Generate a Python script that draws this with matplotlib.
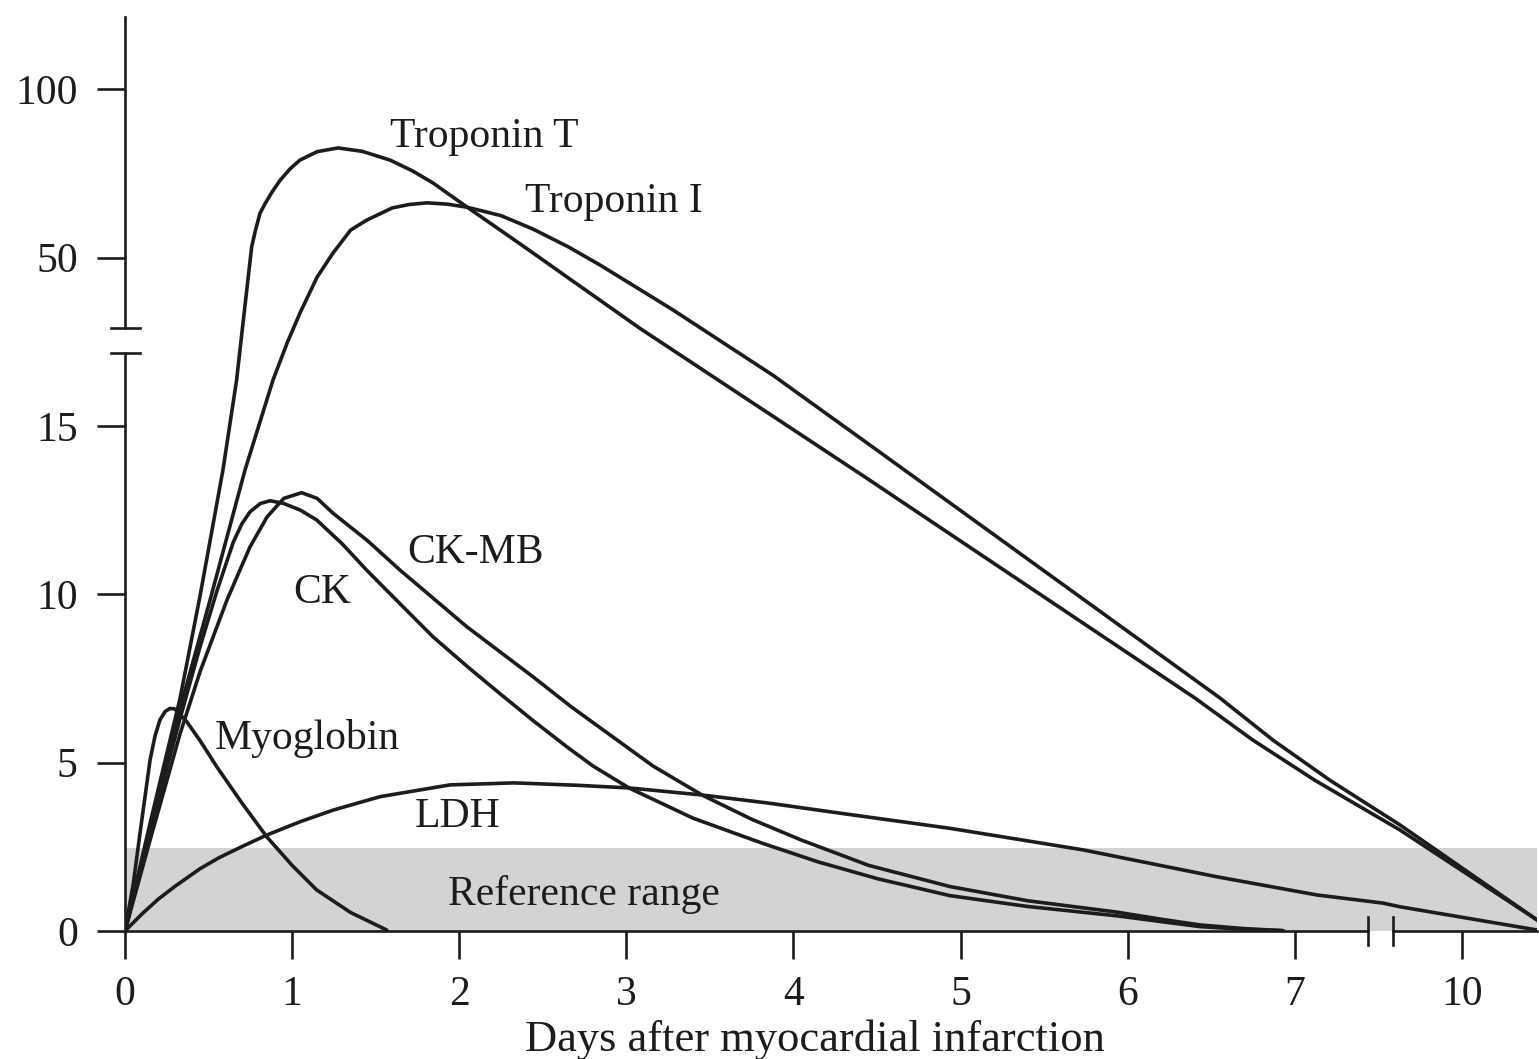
import numpy as np
import matplotlib.pyplot as plt

plt.rcParams['font.family'] = ['Liberation Serif', 'DejaVu Serif']

# values: x in days, y in the chart's units
tropT_x = [0, 0.15, 0.329, 0.449, 0.586, 0.668, 0.708, 0.758, 0.78, 0.808, 0.84, 0.88,
           0.928, 0.99, 1.047, 1.15, 1.275, 1.42, 1.586, 1.72, 1.843, 2.045, 2.24,
           2.442, 2.65, 2.843, 3.082, 4.439, 6.403, 6.75, 7.36, 8.89, 10.45]
tropT_y = [0, 3.2, 6.9, 9.95, 13.69, 16.37, 29.5, 53.2, 58.0, 63.2, 66.2, 69.5,
           73.0, 76.5, 79.0, 81.5, 82.6, 81.6, 79.0, 75.8, 72.2, 65.1, 58.4,
           51.4, 43.5, 36.1, 26.9, 13.45, 6.92, 5.67, 4.48, 3.0, 0.33]

tropI_x = [0, 0.15, 0.329, 0.509, 0.718, 0.886, 0.97, 1.047, 1.15, 1.245, 1.35, 1.448,
           1.6, 1.7, 1.807, 1.93, 2.047, 2.25, 2.442, 2.65, 2.843, 3.05, 3.279, 3.88,
           4.518, 6.553, 6.87, 7.63, 8.89, 10.45]
tropI_y = [0, 3.0, 6.6, 9.83, 13.69, 16.37, 22.1, 31.9, 43.7, 51.4, 58.2, 61.2,
           64.8, 65.8, 66.3, 65.9, 65.0, 62.5, 58.5, 53.3, 47.6, 40.65, 32.95, 16.5,
           14.22, 6.92, 5.67, 4.48, 3.15, 0.33]

ck_x = [0, 0.15, 0.329, 0.449, 0.55, 0.648, 0.7, 0.748, 0.81, 0.868, 0.95, 1.05,
        1.147, 1.3, 1.446, 1.65, 1.843, 2.05, 2.244, 2.442, 2.65, 2.801, 3.016, 3.4,
        3.818, 4.15, 4.506, 4.937, 5.4, 5.937, 6.2, 6.433, 6.7, 6.93]
ck_y = [0, 2.95, 6.3, 8.44, 10.1, 11.55, 12.1, 12.45, 12.7, 12.78, 12.70, 12.5,
        12.21, 11.5, 10.72, 9.7, 8.74, 7.85, 7.05, 6.25, 5.45, 4.9, 4.25, 3.35,
        2.6, 2.05, 1.55, 1.05, 0.73, 0.45, 0.28, 0.13, 0.05, 0.01]

ckmb_x = [0, 0.15, 0.329, 0.449, 0.61, 0.748, 0.85, 0.95, 1.057, 1.15, 1.245, 1.45,
          1.646, 2.045, 2.442, 2.673, 3.16, 3.453, 3.75, 4.048, 4.45, 4.937, 5.4,
          5.937, 6.2, 6.433, 6.7, 6.93]
ckmb_y = [0, 2.7, 5.85, 7.7, 9.83, 11.41, 12.3, 12.85, 13.02, 12.85, 12.41, 11.6,
          10.72, 9.04, 7.55, 6.65, 4.9, 4.04, 3.32, 2.70, 1.95, 1.32, 0.9,
          0.56, 0.35, 0.18, 0.07, 0.01]

myo_x = [0, 0.05, 0.09, 0.15, 0.18, 0.209, 0.24, 0.269, 0.295, 0.317, 0.369, 0.45,
         0.549, 0.7, 0.848, 1.0, 1.147, 1.35, 1.566]
myo_y = [0, 1.42, 2.91, 5.08, 5.8, 6.27, 6.52, 6.61, 6.6, 6.51, 6.22, 5.65,
         4.88, 3.8, 2.80, 1.95, 1.22, 0.55, 0.03]

ldh_x = [0, 0.1, 0.2, 0.3, 0.449, 0.56, 0.688, 0.848, 1.05, 1.245, 1.526, 1.945,
         2.328, 2.7, 3.016, 3.453, 3.85, 4.279, 4.937, 5.733, 6.535, 7.40, 8.58,
         8.89, 10.45]
ldh_y = [0, 0.5, 0.95, 1.33, 1.85, 2.17, 2.48, 2.85, 3.25, 3.59, 3.99, 4.34,
         4.40, 4.33, 4.25, 4.04, 3.8, 3.50, 3.05, 2.41, 1.61, 1.07, 0.83,
         0.72, 0.03]

ref_top = 2.47

x_ticks = [0, 1, 2, 3, 4, 5, 6, 7, 10]
y_ticks = [0, 5, 10, 15, 50, 100]

# broken axes: x 7..10 squeezed into one unit, y 17..50 into three, 50..100 into five
XR = [-5, 7, 10, 20]
XD = [-5, 7, 8, 18]
YR = [-100, 17, 50, 1000]
YD = [-100, 17, 20, 115]


def fx(v):
    return np.interp(v, XR, XD)


def ix(v):
    return np.interp(v, XD, XR)


def fy(v):
    return np.interp(v, YR, YD)


def iy(v):
    return np.interp(v, YD, YR)


fig = plt.figure(figsize=(15.39, 10.59), dpi=100)
ax = fig.add_axes([125 / 1539, 1 - 931 / 1059, 1412 / 1539, 914 / 1059])
ax.set_xscale('function', functions=(fx, ix))
ax.set_yscale('function', functions=(fy, iy))
ax.set_xlim(0, 10.45)
ax.set_ylim(0, 121.5)

ink = '#1c1c1c'
ax.axhspan(0, ref_top, color='#d3d3d3', lw=0, zorder=0)

for xs, ys in [(tropT_x, tropT_y), (tropI_x, tropI_y), (ck_x, ck_y),
               (ckmb_x, ckmb_y), (myo_x, myo_y), (ldh_x, ldh_y)]:
    ax.plot(xs, ys, color=ink, lw=2.6, zorder=3, solid_joinstyle='round',
            solid_capstyle='round')

for s in ax.spines.values():
    s.set_visible(False)

# axis lines with break marks
lk = dict(color=ink, lw=1.9, clip_on=False, zorder=4)
ax.plot([0, 0], [0, 18.9], **lk)
ax.plot([0, 0], [26.9, 121.5], **lk)
ax.plot([-0.084, 0.09], [18.9, 18.9], **lk)
ax.plot([-0.084, 0.09], [26.9, 26.9], **lk)
ax.plot([0, 8.32], [0, 0], **lk)
ax.plot([8.77, 10.45], [0, 0], **lk)
ax.plot([8.32, 8.32], [-0.42, 0.42], **lk)
ax.plot([8.77, 8.77], [-0.42, 0.42], **lk)

ax.set_xticks(x_ticks)
ax.set_xticklabels([str(t) for t in x_ticks])
ax.set_yticks(y_ticks)
ax.set_yticklabels([str(t) for t in y_ticks])
ax.tick_params(axis='both', direction='out', length=20, width=1.9, color=ink,
               labelsize=30, labelcolor=ink)
ax.tick_params(axis='x', pad=12)
ax.tick_params(axis='y', pad=14)

tk = dict(fontsize=30, color=ink, va='center', ha='left', zorder=5)
ax.text(1.586, 85.8, 'Troponin T', **tk)
ax.text(2.394, 66.5, 'Troponin I', **tk)
ax.text(1.688, 11.23, 'CK-MB', **tk)
ax.text(1.005, 10.04, 'CK', **tk)
ax.text(0.539, 5.73, 'Myoglobin', **tk)
ax.text(1.732, 3.38, 'LDH', **tk)
ax.text(1.933, 1.07, 'Reference range', **tk)

ax.set_xlabel('Days after myocardial infarction', fontsize=32, color=ink, va='center')
ax.xaxis.set_label_coords((815 - 125) / 1412, (931 - 1040) / 914)

fig.savefig('out.png', dpi=100)
